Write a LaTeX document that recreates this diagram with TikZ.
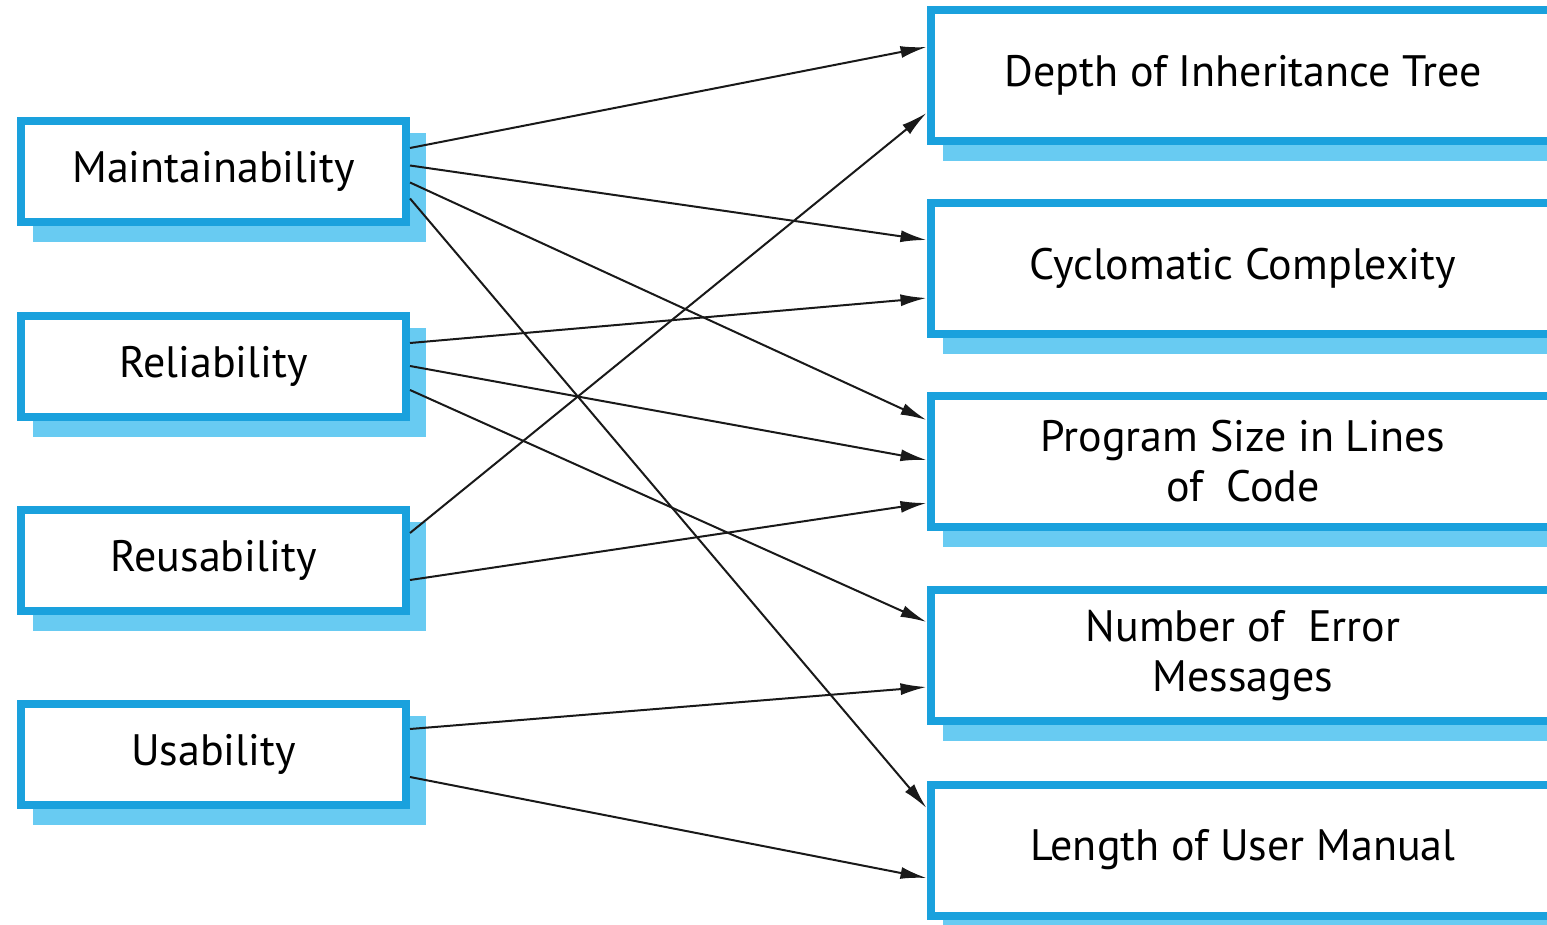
\documentclass[tikz,border=0pt]{standalone}
\usepackage{fontspec}
\setmainfont{PT Sans}
\usepackage{tikz}
\usetikzlibrary{arrows.meta, shadows}
\usepackage{xcolor}
\definecolor{boxblue}{RGB}{26,161,221}
\definecolor{shadeblue}{RGB}{104,203,242}

\begin{document}
\begin{tikzpicture}[x=0.5pt, y=-0.5pt,
            quality/.style={rectangle, draw=boxblue, line width=4pt, fill=white, text=black, font=\fontsize{22}{25}\selectfont, minimum width=192.5pt, minimum height=50.5pt, drop shadow={shadow xshift=8pt, shadow yshift=-8pt, fill=shadeblue, draw=shadeblue, line width=4pt, opacity=1}},
            metric/.style={quality, minimum width=312.5pt, minimum height=65.5pt, align=center},
            link/.style={-{Latex[length=13pt, width=6pt]}, line width=1pt, black!90}]

        \useasboundingbox (0,0) rectangle (1547,925);

        % quality attributes
        \node [quality] (maint) at (213.5,171.5) {Maintainability};
        \node [quality] (rel) at (213.5,366) {Reliability};
        \node [quality] (reu) at (213.5,560) {Reusability};
        \node [quality] (usa) at (213.5,754.5) {Usability};

        % software metrics
        \node [metric] (depth) at (1243,75.5) {Depth of Inheritance Tree};
        \node [metric] (cyclo) at (1243,268.5) {Cyclomatic Complexity};
        \node [metric] (size) at (1243,461.5) {Program Size in Lines\\of~ Code};
        \node [metric] (errors) at (1243,655.5) {Number of~ Error\\Messages};
        \node [metric] (manual) at (1243,850) {Length of User Manual};

        % Maintainability
        \draw[link] ([yshift=11.75pt]maint.east) -- ([yshift=14.25pt]depth.west);
        \draw[link] ([yshift=3pt]maint.east) -- ([yshift=14.25pt]cyclo.west);
        \draw[link] ([yshift=-5.5pt]maint.east) -- ([yshift=20.75pt]size.west);
        \draw[link] ([yshift=-13.5pt]maint.east) -- ([yshift=21pt]manual.west);

        % Reliability
        \draw[link] ([yshift=11.5pt]rel.east) -- ([yshift=-14.75pt]cyclo.west);
        \draw[link] (rel.east) -- ([yshift=0.75pt]size.west);
        \draw[link] ([yshift=-12pt]rel.east) -- ([yshift=16.75pt]errors.west);

        % Reusability
        \draw[link] ([yshift=13.5pt]reu.east) -- ([yshift=-18.75pt]depth.west);
        \draw[link] ([yshift=-10pt]reu.east) -- ([yshift=-20.75pt]size.west);

        % Usability
        \draw[link] ([yshift=12.75pt]usa.east) -- ([yshift=-15.75pt]errors.west);
        \draw[link] ([yshift=-11.25pt]usa.east) -- ([yshift=-14pt]manual.west);

    \end{tikzpicture}
\end{document}
